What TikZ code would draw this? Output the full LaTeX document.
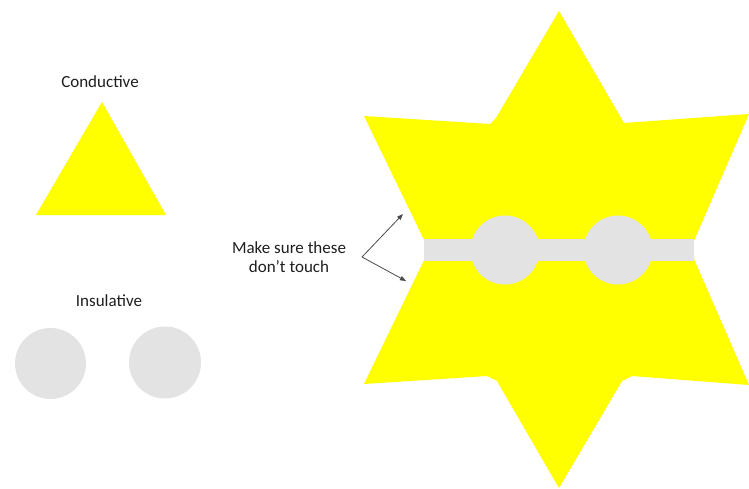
\documentclass[tikz,border=0pt]{standalone}
\usepackage{fontspec}
\setmainfont{Carlito}
\usetikzlibrary{arrows.meta}
\definecolor{condyellow}{RGB}{255,255,0}
\definecolor{insgray}{RGB}{227,227,227}
\definecolor{txtgray}{RGB}{30,30,30}
\tikzset{
  conductor/.style={fill=condyellow, draw=none},
  insulator/.style={fill=insgray, draw=none},
  lbl/.style={font=\fontsize{17}{19.5}\selectfont, text=txtgray, align=center, inner sep=0pt},
  pointer/.style={draw=txtgray!80, line width=0.8pt, -{Triangle[length=6pt,width=4.5pt]}},
}
\begin{document}
\begin{tikzpicture}[x=1pt,y=-1pt]
\useasboundingbox (0,0) rectangle (749,489);
% left legend
\node[lbl] (cond) at (100,82) {Conductive};
\fill[conductor] (102,102) -- (166,215) -- (36,215) -- cycle;
\node[lbl] (ins) at (109,301) {Insulative};
\fill[insulator] (50.5,363.5) circle (35.5);
\fill[insulator] (165,362.5) circle (36);
% star
\fill[conductor] (559,11) -- (624,123) -- (749,114) -- (690,250) -- (749,385)
  -- (632,376) -- (622,381) -- (559,488) -- (497,381) -- (487,376)
  -- (364,384) -- (429,250) -- (364,116) -- (490,124) -- (496,118) -- cycle;
% insulating strip
\fill[insulator] (424,239) rectangle (694,261);
\fill[insulator] (505,250) circle (34.5);
\fill[insulator] (618,250) circle (34.5);
% annotation
\node[lbl] (note) at (289,257) {Make sure these\\don’t touch};
\coordinate (fork) at (362,257);
\coordinate (tipA) at (403,214);
\coordinate (tipB) at (406,281);
\draw[pointer] (fork) -- (tipA);
\draw[pointer] (fork) -- (tipB);
\end{tikzpicture}
\end{document}
